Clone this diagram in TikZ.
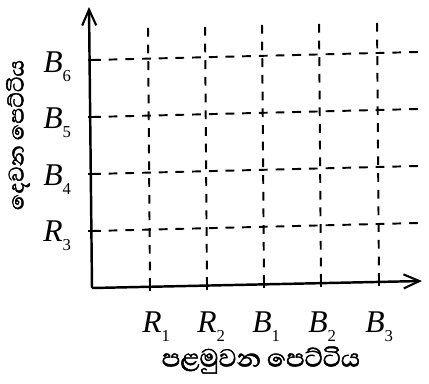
\documentclass[tikz,border=0pt]{standalone}
\usepackage{fontspec}
\setmainfont{Liberation Serif}
\newfontfamily\sinhalafont[Script=Sinhala,FakeBold=1.6]{Abhaya Libre}
\usetikzlibrary{arrows.meta}
\tikzset{
  axisline/.style={line width=1.4pt, -{Straight Barb[length=9pt,width=8pt,line width=1.2pt]}},
  gridline/.style={line width=1.1pt, dash pattern=on 5pt off 4.5pt},
  lbl/.style={anchor=base west, inner sep=0pt, font=\fontsize{18}{18}\selectfont\itshape},
  sinh/.style={inner sep=0pt, font=\sinhalafont\fontsize{18}{18}\selectfont}
}
\newcommand{\lab}[2]{#1\raisebox{-0.3em}{\upshape\fontsize{9.5}{9.5}\selectfont #2}}
\begin{document}
\begin{tikzpicture}[x=0.02cm,y=-0.02cm]
\useasboundingbox (0,0) rectangle (429,383);
\coordinate (O) at (92,288);
\coordinate (Ytip) at (89,7);
\coordinate (Xtip) at (422,281);
% horizontal dashed lines
\foreach \yl/\yr/\n in {60/52/a,117/109/b,174/166/c,231/223/d}{
  \coordinate (hl\n) at (92,\yl);
  \coordinate (hr\n) at (418,\yr);
  \draw[gridline] (hl\n) -- (hr\n);
  \draw[line width=1.1pt] (88,\yl) -- (97,\yl);
}
% vertical dashed lines
\foreach \xb/\yb/\xt/\yt/\n in {150/287/148/25/a,207/286/205/23/b,264/284/262/22/c,321/283/319/20/d,379/282/377/18/e}{
  \coordinate (vb\n) at (\xb,\yb);
  \coordinate (vt\n) at (\xt,\yt);
  \draw[gridline] (vb\n) -- (vt\n);
  \draw[line width=1.1pt] (\xb,\yb+4) -- (\xb,\yb-4);
}
% axes
\draw[axisline] (O) -- (Ytip);
\draw[axisline] (O) -- (Xtip);
% left labels
\node[lbl] (B6) at (43,72) {\lab{B}{6}};
\node[lbl] (B5) at (43,128) {\lab{B}{5}};
\node[lbl] (B4) at (43,185) {\lab{B}{4}};
\node[lbl] (R3) at (43,241) {\lab{R}{3}};
% bottom labels
\node[lbl] (R1) at (142,332) {\lab{R}{1}};
\node[lbl] (R2) at (197,332) {\lab{R}{2}};
\node[lbl] (B1) at (252,332) {\lab{B}{1}};
\node[lbl] (B2) at (308,332) {\lab{B}{2}};
\node[lbl] (B3) at (365,332) {\lab{B}{3}};
% axis titles
\node[sinh] (xt) at (261,360) {පළමුවන පෙට්ටිය};
\node[sinh, font=\sinhalafont\fontsize{15.5}{15.5}\selectfont, rotate=90] (yt) at (18,135) {දෙවන පෙට්ටිය};
\end{tikzpicture}
\end{document}
